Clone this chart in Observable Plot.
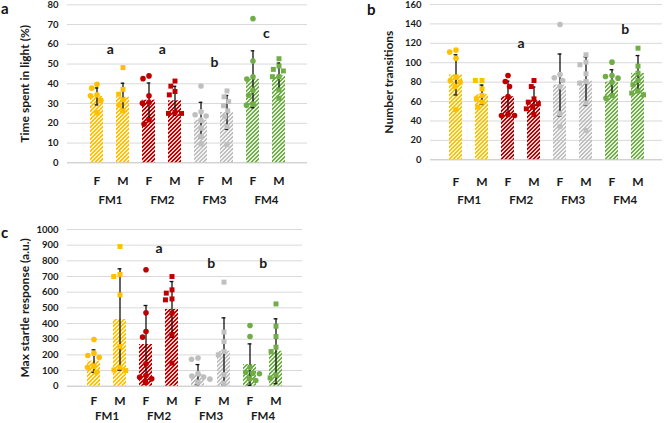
<!DOCTYPE html>
<html><head><meta charset="utf-8">
<script src="https://cdn.jsdelivr.net/npm/d3@7"></script>
<script src="https://cdn.jsdelivr.net/npm/@observablehq/plot@0.6"></script>
<style>
body{margin:0;background:#fff;}
#chart{position:relative;width:667px;height:423px;overflow:hidden;font-family:Lato,sans-serif;}
.layer{position:absolute;}
.plabel{position:absolute;font:bold 15px Lato,sans-serif;line-height:15px;color:#111;}
</style></head><body><div id="chart"></div>
<script>
const groups = ["FM1","FM2","FM3","FM4"];
const sexes = ["F","M"];
const groupColors = ["#FFC000","#C00000","#BFBFBF","#70AD47"];

// Panel a: Time spent in light (%) — order: FM1 F, FM1 M, FM2 F, FM2 M, FM3 F, FM3 M, FM4 F, FM4 M
const aTicks = [0,10,20,30,40,50,60,70,80];
const aMeans = [33.6, 33.2, 31.7, 31.4, 21.6, 25.5, 42.3, 44.0];
const aSD = [4.3, 7.1, 8.7, 7.3, 9.0, 8.6, 14.4, 6.5];
const aPoints = [
  [39.8, 37.8, 34.4, 33.9, 31.7, 25.3],
  [48.2, 37.2, 34.7, 31.9, 29.2, 26.3],
  [44, 42.6, 33.9, 30.5, 30.2, 21.8, 19.6],
  [41.4, 38.8, 36.1, 34.4, 25.5, 25, 25],
  [38.9, 25.8, 24.3, 23.7, 21.6, 17.6, 13.3, 9.6],
  [36.4, 33.4, 31, 28.9, 26.3, 23.3, 18.3, 9.2],
  [73, 51.5, 43.6, 42.4, 36.7, 34.2, 29.7, 29.2],
  [52.7, 49, 47.3, 46.5, 43.6, 43.6, 36.9, 32.7]
];
const aLetterGroups = ["FM1","FM2","FM3","FM4"];
const aLetterTexts = ["a","a","b","c"];
const aLetterY = [57.5, 57.5, 51, 65.5];

// Panel b: Number transitions
const bTicks = [0,20,40,60,80,100,120,140,160];
const bMeans = [87.5, 67, 65, 61, 77, 81, 80, 89];
const bSD = [20.7, 10, 16, 14, 32, 25, 12.8, 18.4];
const bPoints = [
  [113, 111, 104.7, 85.2, 81.7, 80, 75.5, 51.5],
  [81.7, 81.7, 73.1, 66.3, 62.8, 59.4, 54.2],
  [86.9, 80.7, 75.5, 65.2, 46.7, 45.7, 45.7],
  [81.7, 75.5, 62.8, 59.4, 57.7, 54.2, 52.5, 46.4],
  [139.4, 87.9, 84.5, 81.7, 75.5, 47.4, 34.3],
  [108.2, 100.6, 97.9, 88.6, 80.7, 79, 58.4, 30.2],
  [100.6, 86.9, 85.8, 84.1, 80, 66.3, 63.5],
  [115, 96.5, 89.3, 81.7, 77.3, 70.7, 68.7, 67]
];
const bLetterGroups = ["FM2","FM4"];
const bLetterTexts = ["a","b"];
const bLetterY = [119.5, 134];

// Panel c: Max startle response (a.u.)
const cTicks = [0,100,200,300,400,500,600,700,800,900,1000];
const cMeans = [160, 426, 266, 490, 74, 223, 138, 223];
const cSD = [72, 323, 249, 178, 64, 213, 132, 207];
const cPoints = [
  [298, 211, 196, 185, 128, 121, 89],
  [891, 713, 700, 583, 253, 121, 104, 100],
  [743, 468, 349, 313, 143, 68, 57, 47, 26],
  [700, 615, 594, 557, 551, 466, 330, 147],
  [180, 172, 80, 65, 58, 45, 25],
  [664, 345, 285, 221, 200, 74, 19],
  [387, 317, 121, 89, 83, 79, 47, 36],
  [525, 383, 317, 249, 221, 72, 53]
];
const cLetterGroups = ["FM2","FM3","FM4"];
const cLetterTexts = ["a","b","b"];
const cLetterY = [880, 785, 785];

const keys = groups.flatMap(g => sexes.map(s => `${g} ${s}`));
const chart = document.getElementById("chart");

function makePanel(id, cfg) {
  const {left, top, width, height, mt, mr, mb, ml, step, yDomain, ticks, means, sds, points,
         letterGroups, letterTexts, letterY, ylabel, ylabelX, fmDy, groupDy} = cfg;
  const range = width - ml - mr;
  const pi = 0.5, po = (range / step - 8 + pi) / 2;
  const bw = step * (1 - pi);
  const capInset = (bw - 4) / 2;
  const bars = keys.map((k, i) => ({key: k, group: groups[Math.floor(i / 2)], sex: sexes[i % 2],
    mean: means[i], sd: sds[i], color: groupColors[Math.floor(i / 2)]}));
  const pts = bars.flatMap((b, i) => points[i].map(v => ({key: b.key, sex: b.sex, color: b.color, v})));
  const letters = letterGroups.map((g, i) => ({g, t: letterTexts[i], y: letterY[i]}));
  const ts = {fontWeight: "bold", fill: "#1a1a1a"};
  const common = {width, height, marginTop: mt, marginRight: mr, marginBottom: mb, marginLeft: ml};

  const bg = Plot.plot({
    ...common,
    style: {background: "transparent", fontFamily: "Lato, sans-serif", overflow: "visible"},
    x: {domain: keys, paddingInner: pi, paddingOuter: po, axis: null},
    y: {domain: yDomain, axis: null},
    marks: [
      Plot.ruleY(ticks.slice(1), {stroke: "#d9d9d9", strokeWidth: 1}),
      Plot.ruleY([0], {stroke: "#bfbfbf", strokeWidth: 1}),
      Plot.text(ticks, {y: d => d, text: d => String(d), frameAnchor: "left", textAnchor: "end", lineAnchor: "middle", dx: -9, fontSize: 9.5, ...ts}),
      ...groups.map((g, gi) => Plot.barY(bars.filter(b => b.group === g), {x: "key", y: "mean", fill: `url(#${id}-p${gi})`})),
      Plot.ruleX(bars, {x: "key", y1: d => d.mean - d.sd, y2: d => d.mean + d.sd, stroke: "#111", strokeWidth: 1.3}),
      Plot.tickY(bars, {x: "key", y: d => d.mean + d.sd, insetLeft: capInset, insetRight: capInset, stroke: "#111", strokeWidth: 1.3}),
      Plot.tickY(bars, {x: "key", y: d => d.mean - d.sd, insetLeft: capInset, insetRight: capInset, stroke: "#111", strokeWidth: 1.3}),
      Plot.text(bars, {x: "key", text: "sex", frameAnchor: "bottom", lineAnchor: "middle", dy: fmDy, fontSize: 12, ...ts}),
      Plot.text(groups, {x: g => `${g} F`, text: g => g, dx: step / 2, frameAnchor: "bottom", lineAnchor: "middle", dy: groupDy, fontSize: 11.5, ...ts}),
      Plot.text(letters, {x: d => `${d.g} F`, y: "y", text: "t", dx: step / 2, fontSize: 14, ...ts}),
      Plot.text([ylabel], {text: d => d, frameAnchor: "left", textAnchor: "middle", lineAnchor: "middle", rotate: -90, dx: ylabelX - ml, fontSize: 12, ...ts})
    ]
  });
  const defs = d3.select(bg).insert("defs", ":first-child");
  groupColors.forEach((c, i) => {
    const p = defs.append("pattern").attr("id", `${id}-p${i}`).attr("patternUnits", "userSpaceOnUse")
      .attr("width", 4).attr("height", 4);
    p.append("rect").attr("width", 4).attr("height", 4).attr("fill", c).attr("fill-opacity", 0.18);
    for (let y = 0; y < 4; y++) for (let x = 0; x < 4; x++) {
      if ((x + y) % 4 < 2) p.append("rect").attr("x", x).attr("y", y).attr("width", 1).attr("height", 1).attr("fill", c);
    }
  });

  const fg = Plot.plot({
    ...common,
    style: {background: "transparent", overflow: "visible"},
    fx: {domain: keys, paddingInner: pi, paddingOuter: po, axis: null},
    y: {domain: yDomain, axis: null},
    color: {type: "identity"},
    symbol: {domain: sexes, range: ["circle", "square"]},
    marks: [
      Plot.dot(pts, Plot.dodgeX({anchor: "middle", padding: 1, fx: "key", y: "v", r: 2.8, fill: "color", symbol: "sex"}))
    ]
  });

  for (const el of [bg, fg]) {
    el.classList.add("layer");
    el.style.left = left + "px";
    el.style.top = top + "px";
    chart.appendChild(el);
  }
}

makePanel("pa", {left: 0, top: 0, width: 330, height: 210, ml: 67, mr: 23, mt: 4.3, mb: 47.7, step: 26.8,
  yDomain: [0, 80], ticks: aTicks, means: aMeans, sds: aSD, points: aPoints,
  letterGroups: aLetterGroups, letterTexts: aLetterTexts, letterY: aLetterY,
  ylabel: "Time spent in light (%)", ylabelX: 25, fmDy: 18, groupDy: 38});
makePanel("pb", {left: 335, top: 0, width: 332, height: 210, ml: 95, mr: 5, mt: 4, mb: 50.7, step: 26.3,
  yDomain: [0, 160], ticks: bTicks, means: bMeans, sds: bSD, points: bPoints,
  letterGroups: bLetterGroups, letterTexts: bLetterTexts, letterY: bLetterY,
  ylabel: "Number transitions", ylabelX: 54, fmDy: 22.4, groupDy: 40.7});
makePanel("pc", {left: 0, top: 210, width: 330, height: 213, ml: 67, mr: 28, mt: 19, mb: 37.3, step: 26.2,
  yDomain: [0, 1000], ticks: cTicks, means: cMeans, sds: cSD, points: cPoints,
  letterGroups: cLetterGroups, letterTexts: cLetterTexts, letterY: cLetterY,
  ylabel: "Max startle response (a.u.)", ylabelX: 25, fmDy: 15, groupDy: 30});

[["a", 1, 1], ["b", 367, 2], ["c", 1, 225]].forEach(([t, x, y]) => {
  const d = document.createElement("div");
  d.className = "plabel"; d.textContent = t;
  d.style.left = x + "px"; d.style.top = y + "px";
  chart.appendChild(d);
});
</script></body></html>
